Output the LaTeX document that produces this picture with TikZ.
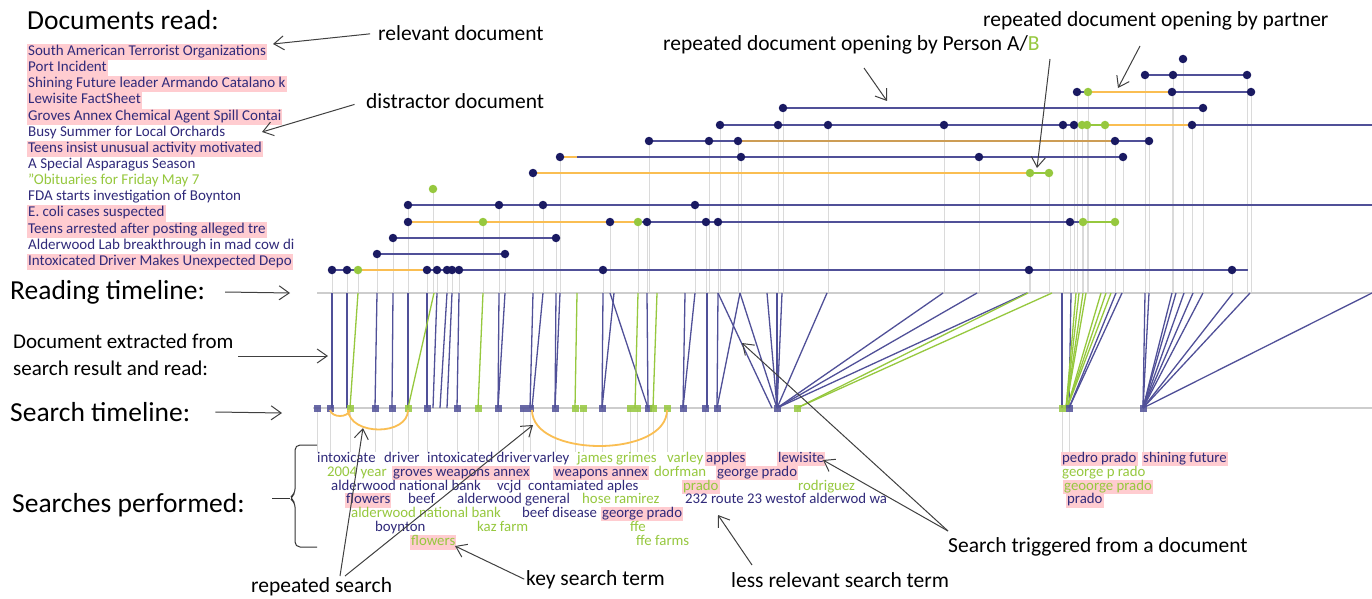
\documentclass[tikz,border=0pt]{standalone}
\usepackage{fontspec}
\setmainfont{Carlito}
\usetikzlibrary{arrows.meta}

\definecolor{navy}{RGB}{26,26,98}
\definecolor{navyline}{RGB}{80,80,152}
\definecolor{navytext}{RGB}{48,42,122}
\definecolor{leaf}{RGB}{150,200,62}
\definecolor{amber}{RGB}{250,190,82}
\definecolor{blush}{RGB}{255,204,208}
\definecolor{palegrey}{RGB}{218,218,218}
\definecolor{axisgrey}{RGB}{205,205,205}

% reading events: x / row / style
\newcommand{\readdots}{
  332/270/dot, 347/270/dot, 358/270/gdot, 427/270/dot, 437/270/dot,
  447/270/dot, 452/270/dot, 459/270/dot, 603/270/dot, 1029/270/dot,
  1232/270/dot,
  377/254/dot, 505/254/dot,
  393/238/dot, 556/238/dot,
  408/222/dot, 483/222/gdot, 610/222/dot, 638/222/gdot, 647/222/dot,
  706/222/dot, 718/222/dot, 1070/222/dot, 1083/222/gdot, 1115/222/gdot,
  408/205/dot, 499/205/dot, 543/205/dot, 695/205/dot,
  433/189/gdot,
  533/173/dot, 1030/173/gdot, 1049/173/gdot,
  560/157/dot, 741/157/dot, 979/157/dot, 1123/157/dot,
  649/141/dot, 709/141/dot, 738/141/dot, 1115/141/dot, 1149/141/dot,
  720/125/dot, 778/125/dot, 828/125/dot, 944/125/dot, 1063/125/dot,
  1074/125/dot, 1082/125/gdot, 1087/125/gdot, 1105/125/gdot, 1192/125/dot,
  783/108/dot, 1203/108/dot,
  1077/92/dot, 1088/92/gdot, 1172/92/dot, 1251/92/dot,
  1145/75/dot, 1173/75/dot, 1247/75/dot,
  1183/59/dot}

% searches: x / style
\newcommand{\searchdots}{
  317/sq, 330/sq, 350/gsq, 375/sq, 392/sq, 408/gsq, 427/sq, 457/sq,
  478/gsq, 498/sq, 523/sq, 530/sq, 555/sq, 575/gsq, 583/gsq, 602/sq,
  630/gsq, 637/gsq, 648/sq, 653/gsq, 667/gsq, 683/sq, 705/sq, 717/sq,
  777/sq, 797/gsq, 1062/gsq, 1069/sq, 1143/sq}

\begin{document}
\begin{tikzpicture}[
    x = 1pt,
    y = -1pt,
    >={Straight Barb[length=10pt,width=14pt]},
    dot/.style = {
      circle,
      fill = navy,
      inner sep = 0pt,
      minimum size = 8.5pt
    },
    gdot/.style = {dot, fill = leaf},
    sq/.style = {
      rectangle,
      fill = navyline,
      fill opacity = 0.85,
      inner sep = 0pt,
      minimum size = 7pt
    },
    gsq/.style = {sq, fill = leaf},
    seg/.style = {navyline, line width = 2.6pt},
    link/.style = {navyline, line width = 1.3pt},
    glink/.style = {leaf, line width = 1.3pt},
    drop/.style = {palegrey, line width = 1pt},
    doc/.style = {
      anchor = west,
      inner xsep = 1pt,
      inner ysep = 1pt,
      text height = 10.5pt,
      text depth = 3.6pt,
      text = navytext,
      font = \fontsize{15}{16}\selectfont
    },
    hit/.style = {fill = blush},
    term/.style = {
      anchor = west,
      inner xsep = 1pt,
      inner ysep = 0.5pt,
      text height = 10pt,
      text depth = 3.2pt,
      text = navytext,
      font = \fontsize{14.8}{16}\selectfont
    },
    gterm/.style = {term, text = leaf},
    note/.style = {anchor = west, inner sep = 0pt, font = \fontsize{21.5}{24}\selectfont},
    big/.style = {anchor = west, inner sep = 0pt, font = \fontsize{27.5}{30}\selectfont},
    pointer/.style = {->, line width = 1pt, black!75}
  ]
  \useasboundingbox (0,0) rectangle (1372,599);
  \fill[white] (0,0) rectangle (1372,599);

  % grey drops under every event
  \foreach \x/\y/\s in \readdots
    \draw[drop] (\x,\y) -- (\x,293);
  \foreach \x/\s in \searchdots
    \draw[drop] (\x,408) -- (\x,452);

  \draw[axisgrey, line width = 1.5pt] (317,293) -- (1372,293);
  \draw[axisgrey, line width = 1.5pt] (313,408) -- (1372,408);

  % document opened from a search
  \foreach \a/\b in {332/332, 347/347, 377/375, 393/392, 408/408, 427/427,
      437/433, 447/440, 452/447, 459/457, 499/498, 505/498, 533/530,
      543/532, 556/555, 560/555, 603/602, 614/602, 610/648, 647/648,
      685/683, 695/683, 707/707, 718/717, 718/772, 740/717, 740/777,
      767/777, 777/777, 782/777, 827/777, 943/777, 977/777, 1027/777,
      1062/1062, 1071/1069, 1116/1069, 1122/1069, 1145/1143, 1149/1143,
      1172/1143, 1176/1143, 1184/1143, 1193/1143, 1203/1143, 1233/1143,
      1250/1143, 1372/1143}
    \draw[link] (\a,293) -- (\b,408);
  \foreach \a/\b in {358/350, 434/408, 483/478, 577/575, 638/635, 657/653,
      1028/797, 1052/797, 1076/1066, 1079/1066, 1083/1066, 1086/1066,
      1101/1067, 1106/1067, 1111/1067}
    \draw[glink] (\a,293) -- (\b,408);

  % reading rows, first document at the bottom
  \draw[seg] (332,270) -- (358,270);
  \draw[seg,amber] (358,270) -- (427,270);
  \draw[seg] (427,270) -- (1248,270);
  \draw[seg] (377,254) -- (505,254);
  \draw[seg] (393,238) -- (556,238);
  \draw[seg,amber] (408,222) -- (638,222);
  \draw[seg] (638,222) -- (1083,222);
  \draw[seg,leaf] (1083,222) -- (1115,222);
  \draw[seg] (408,205) -- (1372,205);
  \draw[seg,amber] (533,173) -- (1030,173);
  \draw[seg,leaf] (1030,173) -- (1049,173);
  \draw[seg,amber] (560,157) -- (577,157);
  \draw[seg] (577,157) -- (1123,157);
  \draw[seg] (649,141) -- (738,141);
  \draw[seg,amber!80!navy] (738,141) -- (1115,141);
  \draw[seg] (1115,141) -- (1149,141);
  \draw[seg] (720,125) -- (1074,125);
  \draw[seg,leaf] (1074,125) -- (1105,125);
  \draw[seg,amber] (1105,125) -- (1192,125);
  \draw[seg] (1192,125) -- (1372,125);
  \draw[seg] (783,108) -- (1203,108);
  \draw[seg] (1077,92) -- (1088,92);
  \draw[seg,amber] (1088,92) -- (1172,92);
  \draw[seg] (1172,92) -- (1251,92);
  \draw[seg] (1145,75) -- (1247,75);

  \foreach \x/\y/\s in \readdots
    \node[\s] at (\x,\y) {};
  \foreach \x/\s in \searchdots
    \node[\s] at (\x,408) {};

  % repeated searches
  \draw[amber, line width = 1.8pt] (330,410) .. controls (332,418) and (348,418) .. (350,410);
  \draw[amber, line width = 1.8pt] (348,410) .. controls (350,436) and (408,436) .. (408,410);
  \draw[amber, line width = 1.8pt] (532,410) .. controls (532,458) and (667,458) .. (667,410);

  % documents read
  \node[big] (docs) at (27,20) {Documents read:};
  \node[doc,hit] (d1) at (27,52) {South American Terrorist Organizations};
  \node[doc,hit] (d2) at (27,68.2) {Port Incident};
  \node[doc,hit] (d3) at (27,84.3) {Shining Future leader Armando Catalano k};
  \node[doc,hit] (d4) at (27,100.5) {Lewisite FactSheet};
  \node[doc,hit] (d5) at (27,116.6) {Groves Annex Chemical Agent Spill Contai};
  \node[doc] (d6) at (27,132.8) {Busy Summer for Local Orchards};
  \node[doc,hit] (d7) at (27,148.9) {Teens insist unusual activity motivated};
  \node[doc] (d8) at (27,165.1) {A Special Asparagus Season};
  \node[doc,text=leaf] (d9) at (27,181.2) {"Obituaries for Friday May 7};
  \node[doc] (d10) at (27,197.4) {FDA starts investigation of Boynton};
  \node[doc,hit] (d11) at (27,213.5) {E. coli cases suspected};
  \node[doc,hit] (d12) at (27,229.7) {Teens arrested after posting alleged tre};
  \node[doc] (d13) at (27,245.8) {Alderwood Lab breakthrough in mad cow di};
  \node[doc,hit] (d14) at (27,262) {Intoxicated Driver Makes Unexpected Depo};

  % searches performed
  \node[term] (intoxicate) at (316,459) {intoxicate};
  \node[term] (driver) at (383,459) {driver};
  \node[term] (intoxdriver) at (426,459) {intoxicated driver};
  \node[term] (varley) at (532,459) {varley};
  \node[gterm] (grimes) at (576,459) {james grimes};
  \node[gterm] (varleyb) at (666,459) {varley};
  \node[term,hit] (apples) at (705,459) {apples};
  \node[term,hit] (lewisite) at (777,459) {lewisite};
  \node[term,hit] (pedro) at (1061,459) {pedro prado};
  \node[term,hit] (shining) at (1142,459) {shining future};

  \node[gterm] (year) at (326,473) {2004 year};
  \node[term,hit] (groves) at (392,473) {groves weapons annex};
  \node[term,hit] (weapons) at (553,473) {weapons annex};
  \node[gterm] (dorfman) at (653,473) {dorfman};
  \node[term,hit] (george) at (716,473) {george prado};
  \node[gterm] (georgep) at (1061,473) {george p rado};

  \node[term] (bank) at (330,487) {alderwood national bank};
  \node[term] (vcjd) at (496,487) {vcjd};
  \node[term] (aples) at (527,487) {contamiated aples};
  \node[gterm,hit] (prado) at (682,487) {prado};
  \node[gterm] (rodriguez) at (797,487) {rodriguez};
  \node[gterm,hit] (geoorge) at (1063,487) {geoorge prado};

  \node[term,hit] (flowers) at (345,500.5) {flowers};
  \node[term] (beef) at (407,500.5) {beef};
  \node[term] (general) at (456,500.5) {alderwood general};
  \node[gterm] (ramirez) at (581,500.5) {hose ramirez};
  \node[term] (route) at (684,500.5) {232 route 23 westof alderwod wa};
  \node[term,hit] (pradob) at (1066,500.5) {prado};

  \node[gterm] (bankb) at (350,514) {alderwood national bank};
  \node[term] (disease) at (521,514) {beef disease};
  \node[term,hit] (georgeb) at (601,514) {george prado};

  \node[term] (boynton) at (374,528) {boynton};
  \node[gterm] (kaz) at (476,528) {kaz farm};
  \node[gterm] (ffe) at (629,528) {ffe};

  \node[gterm,hit] (flowersb) at (410,542.5) {flowers};
  \node[gterm] (ffefarms) at (635,542.5) {ffe farms};

  % labels on the left
  \node[big] (readlab) at (10,292) {Reading timeline:};
  \node[anchor = west, inner sep = 0pt, align = left,
    font = \fontsize{21}{27}\selectfont] (extract) at (13,355)
    {Document extracted from\\search result and read:};
  \node[big] (searchlab) at (10,412) {Search timeline:};
  \node[big] (performed) at (12,505) {Searches performed:};
  \draw[black!80, line width = 1pt, rounded corners = 5pt]
    (317,445) -- (295,445) -- (295,494) -- (289,498) -- (295,502)
    -- (295,547) -- (317,547);
  \draw[black!80, line width = 1pt] (272,498) -- (290,498);

  \coordinate (read-tip) at (290,293);
  \coordinate (extract-from) at (238,356);
  \coordinate (extract-tip) at (328,356);
  \coordinate (search-tip) at (282,413);
  \draw[pointer] ([xshift=20pt]readlab.east) -- (read-tip);
  \draw[pointer] (extract-from) -- (extract-tip);
  \draw[pointer] ([xshift=25pt]searchlab.east) -- (search-tip);

  % notes
  \node[note] (relevant) at (378,33) {relevant document};
  \node[note] (distractor) at (366,101) {distractor document};
  \node[note] (byab) at (663,45) {repeated document opening by Person A/\textcolor{leaf}{B}};
  \node[note] (bypartner) at (983,21) {repeated document opening by partner};
  \node[note] (repeated) at (251,587) {repeated search};
  \node[note] (keyterm) at (526,580) {key search term};
  \node[note] (lessterm) at (731,580) {less relevant search term};
  \node[note] (triggered) at (948,547) {Search triggered from a document};

  \coordinate (relevant-tip) at (273,44);
  \coordinate (distractor-tip) at (262,132);
  \coordinate (ab-from) at (864,68);
  \coordinate (ab-tip) at (887,101);
  \coordinate (b-from) at (1050,59);
  \coordinate (b-tip) at (1037,168);
  \coordinate (partner-from) at (1140,46);
  \coordinate (partner-tip) at (1118,88);
  \coordinate (rep-from) at (340,576);
  \coordinate (rep-from2) at (345,576);
  \coordinate (rep-tip) at (363,428);
  \coordinate (rep-tip2) at (533,425);
  \coordinate (key-tip) at (455,546);
  \coordinate (less-from) at (752,565);
  \coordinate (less-tip) at (718,515);
  \coordinate (trig-from) at (948,531);
  \coordinate (trig-tip) at (823,460);
  \coordinate (trig-tip2) at (742,343);

  \draw[pointer, shorten <= 8pt] (relevant.west) -- (relevant-tip);
  \draw[pointer, shorten <= 12pt] (distractor.west) -- (distractor-tip);
  \draw[pointer] (ab-from) -- (ab-tip);
  \draw[pointer] (b-from) -- (b-tip);
  \draw[pointer] (partner-from) -- (partner-tip);
  \draw[pointer] (rep-from) -- (rep-tip);
  \draw[pointer] (rep-from2) -- (rep-tip2);
  \draw[pointer, shorten <= 2pt] (keyterm.west) -- (key-tip);
  \draw[pointer] (less-from) -- (less-tip);
  \draw[pointer] (trig-from) -- (trig-tip);
  \draw[pointer] (trig-from) -- (trig-tip2);
\end{tikzpicture}
\end{document}
